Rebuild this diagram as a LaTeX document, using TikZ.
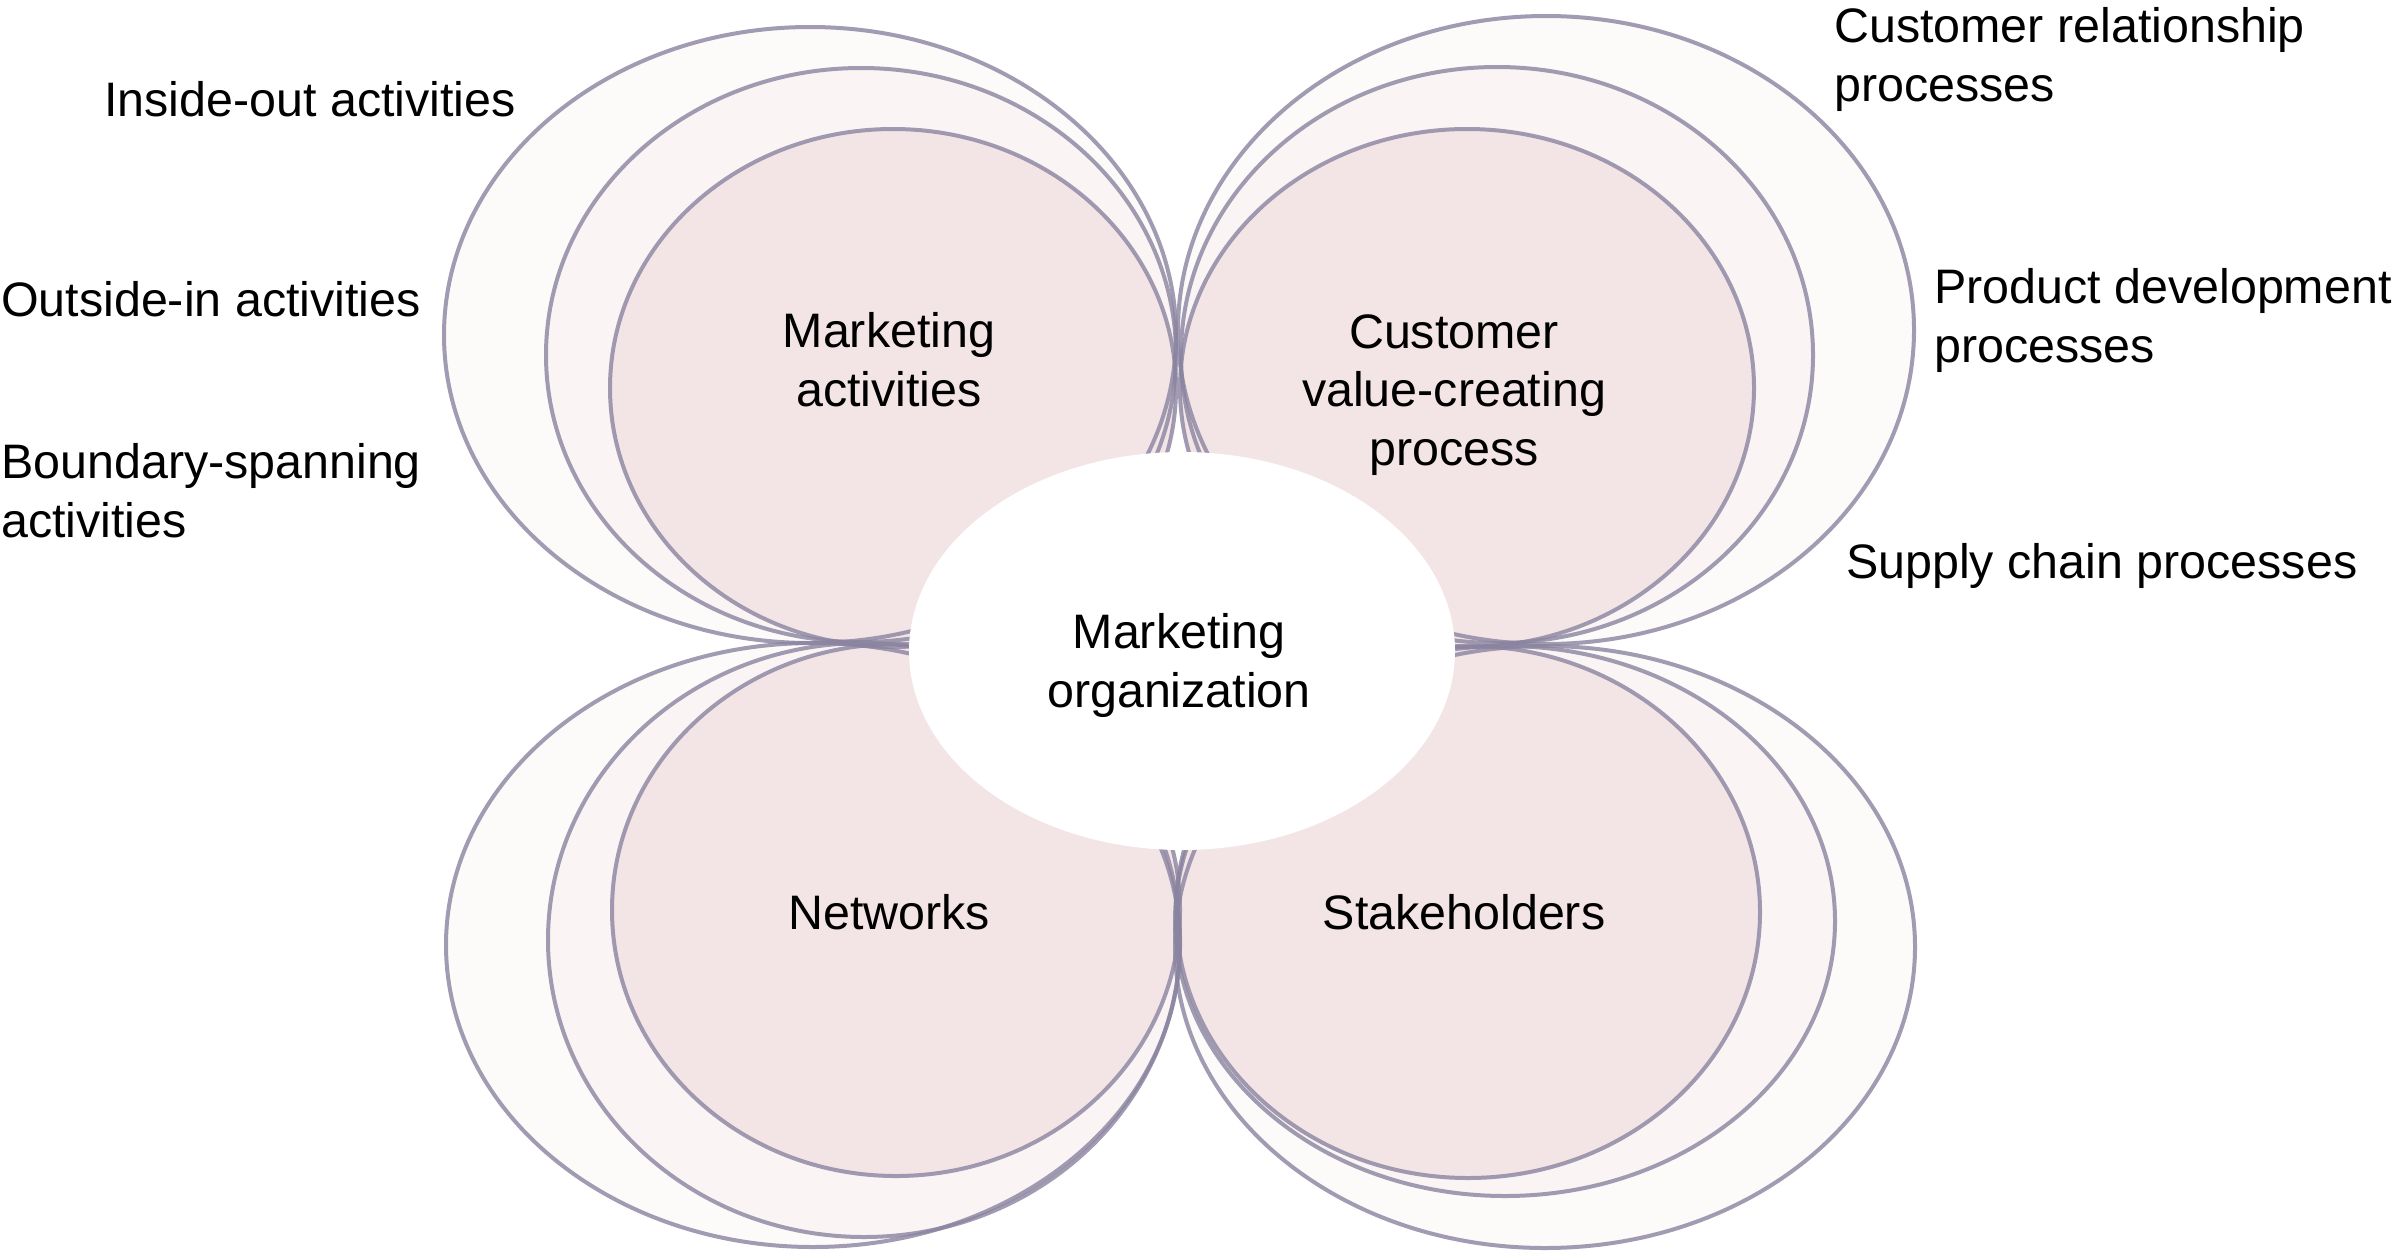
\documentclass[tikz,border=0pt]{standalone}
\usepackage{fontspec}
\setmainfont{Liberation Sans}
\definecolor{outerfill}{RGB}{253,250,250}
\definecolor{midfill}{RGB}{251,244,245}
\definecolor{innerfill}{RGB}{243,228,230}
\definecolor{linec}{RGB}{138,132,160}
\begin{document}
\begin{tikzpicture}[x=1pt,y=-1pt,
  txt/.style={font=\fontsize{48.4}{58.5}\selectfont, inner sep=0pt, text=black},
  lbl/.style={txt, align=left, anchor=base west},
  ctr/.style={txt, align=center, anchor=base},
  ring/.style={draw=linec, draw opacity=0.8, line width=4pt},
]
\useasboundingbox (0,0) rectangle (2392,1253);
\fill[white] (0,0) rectangle (2392,1253);

% ---- fills: outer, middle, inner of each petal
\fill[outerfill] (810,335) ellipse [x radius=366pt, y radius=308pt];
\fill[outerfill] (1546,330) ellipse [x radius=368pt, y radius=314pt];
\fill[outerfill] (813,945) ellipse [x radius=367pt, y radius=302pt];
\fill[outerfill] (1545,947) ellipse [x radius=370pt, y radius=301pt];

\fill[midfill] (861,355) ellipse [x radius=315pt, y radius=287pt];
\fill[midfill] (1497,355) ellipse [x radius=316pt, y radius=288pt];
\fill[midfill] (864,940) ellipse [x radius=316pt, y radius=297pt];
\fill[midfill] (1505,921) ellipse [x radius=330pt, y radius=275pt];

\fill[innerfill] (893,388) ellipse [x radius=283pt, y radius=259pt];
\fill[innerfill] (1467,388) ellipse [x radius=287pt, y radius=259pt];
\fill[innerfill] (896,910) ellipse [x radius=284pt, y radius=266pt];
\fill[innerfill] (1468,912) ellipse [x radius=292pt, y radius=266pt];

% ---- outlines
\draw[ring] (810,335) ellipse [x radius=366pt, y radius=308pt];
\draw[ring] (1546,330) ellipse [x radius=368pt, y radius=314pt];
\draw[ring] (813,945) ellipse [x radius=367pt, y radius=302pt];
\draw[ring] (1545,947) ellipse [x radius=370pt, y radius=301pt];

\draw[ring] (861,355) ellipse [x radius=315pt, y radius=287pt];
\draw[ring] (1497,355) ellipse [x radius=316pt, y radius=288pt];
\draw[ring] (864,940) ellipse [x radius=316pt, y radius=297pt];
\draw[ring] (1505,921) ellipse [x radius=330pt, y radius=275pt];

\draw[ring] (893,388) ellipse [x radius=283pt, y radius=259pt];
\draw[ring] (1467,388) ellipse [x radius=287pt, y radius=259pt];
\draw[ring] (896,910) ellipse [x radius=284pt, y radius=266pt];
\draw[ring] (1468,912) ellipse [x radius=292pt, y radius=266pt];

% ---- centre
\fill[white] (1182,651) ellipse [x radius=273pt, y radius=199pt];

% ---- texts (base anchor = baseline of the last line)
\node[ctr] (ma) at (889,406) {Marketing\\activities};
\node[ctr] (cv) at (1454,465) {Customer\\value-creating\\process};
\node[ctr] (mo) at (1179,707) {Marketing\\organization};
\node[ctr] (nw) at (889,929) {Networks};
\node[ctr] (sh) at (1464,929) {Stakeholders};

\node[lbl] (io) at (104,116) {Inside-out activities};
\node[lbl] (oi) at (1,316) {Outside-in activities};
\node[lbl] (bs) at (1,537) {Boundary-spanning\\activities};
\node[lbl] (cr) at (1834,101) {Customer relationship\\processes};
\node[lbl] (pd) at (1934,362) {Product development\\processes};
\node[lbl] (sc) at (1846,578) {Supply chain processes};
\end{tikzpicture}
\end{document}
